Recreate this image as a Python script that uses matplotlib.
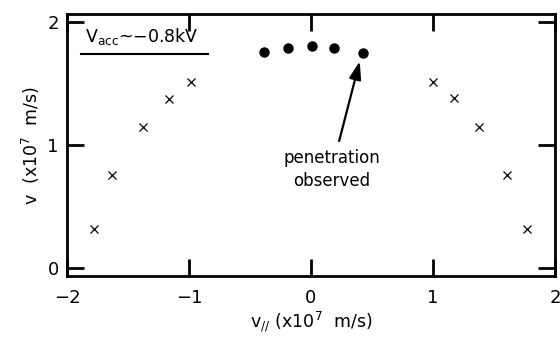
import matplotlib
matplotlib.use("Agg")
import matplotlib.pyplot as plt

# Data
cross_vpar = [-1.78, -1.63, -1.38, -1.16, -0.98, 1.00, 1.17, 1.38, 1.61, 1.77]
cross_vperp = [0.32, 0.76, 1.15, 1.37, 1.51, 1.51, 1.38, 1.15, 0.76, 0.32]
dot_vpar = [-0.385, -0.19, 0.01, 0.19, 0.43]
dot_vperp = [1.756, 1.79, 1.80, 1.79, 1.75]
xticks = [-2, -1, 0, 1, 2]
yticks = [0, 1, 2]

plt.rcParams['font.family'] = ['DejaVu Sans']
plt.rcParams['mathtext.fontset'] = 'dejavusans'

fig = plt.figure(figsize=(5.6, 3.38), dpi=100)
ax = fig.add_axes([0.1196, 0.183, 0.8714, 0.776])

ax.plot(cross_vpar, cross_vperp, linestyle='none', marker='x', color='black',
        markersize=6, markeredgewidth=0.9)
ax.plot(dot_vpar, dot_vperp, linestyle='none', marker='o', color='black',
        markersize=6.5)

ax.set_xlim(-2, 2)
ax.set_ylim(-0.065, 2.065)
ax.set_xticks(xticks)
ax.set_yticks(yticks)
ax.set_xticklabels(['\u22122', '\u22121', '0', '1', '2'])
ax.tick_params(direction='in', length=12, width=2, labelsize=13,
               top=True, right=True)
ax.tick_params(axis='x', pad=9)
ax.tick_params(axis='y', pad=6)
for s in ax.spines.values():
    s.set_linewidth(2)

ax.set_xlabel('v$_{//}$ (x10$^{7}$  m/s)', fontsize=12.5, labelpad=2)
ax.set_ylabel('v  (x10$^{7}$  m/s)', fontsize=12.5, labelpad=4)

ax.text(0.037, 0.915, 'V$_{\\rm acc}$~\u22120.8kV', transform=ax.transAxes,
        fontsize=12.5, ha='left', va='center')
ax.plot([0.029, 0.289], [0.847, 0.847], transform=ax.transAxes, color='black',
        linewidth=1.5, clip_on=False)

ax.annotate('penetration\nobserved', xy=(0.40, 1.68), xytext=(0.17, 0.80),
            ha='center', va='center', fontsize=12, linespacing=1.35,
            arrowprops=dict(arrowstyle='-|>,head_length=0.9,head_width=0.3',
                            color='black', lw=1.6, shrinkA=4, shrinkB=0))

fig.savefig('out.png', dpi=100)
